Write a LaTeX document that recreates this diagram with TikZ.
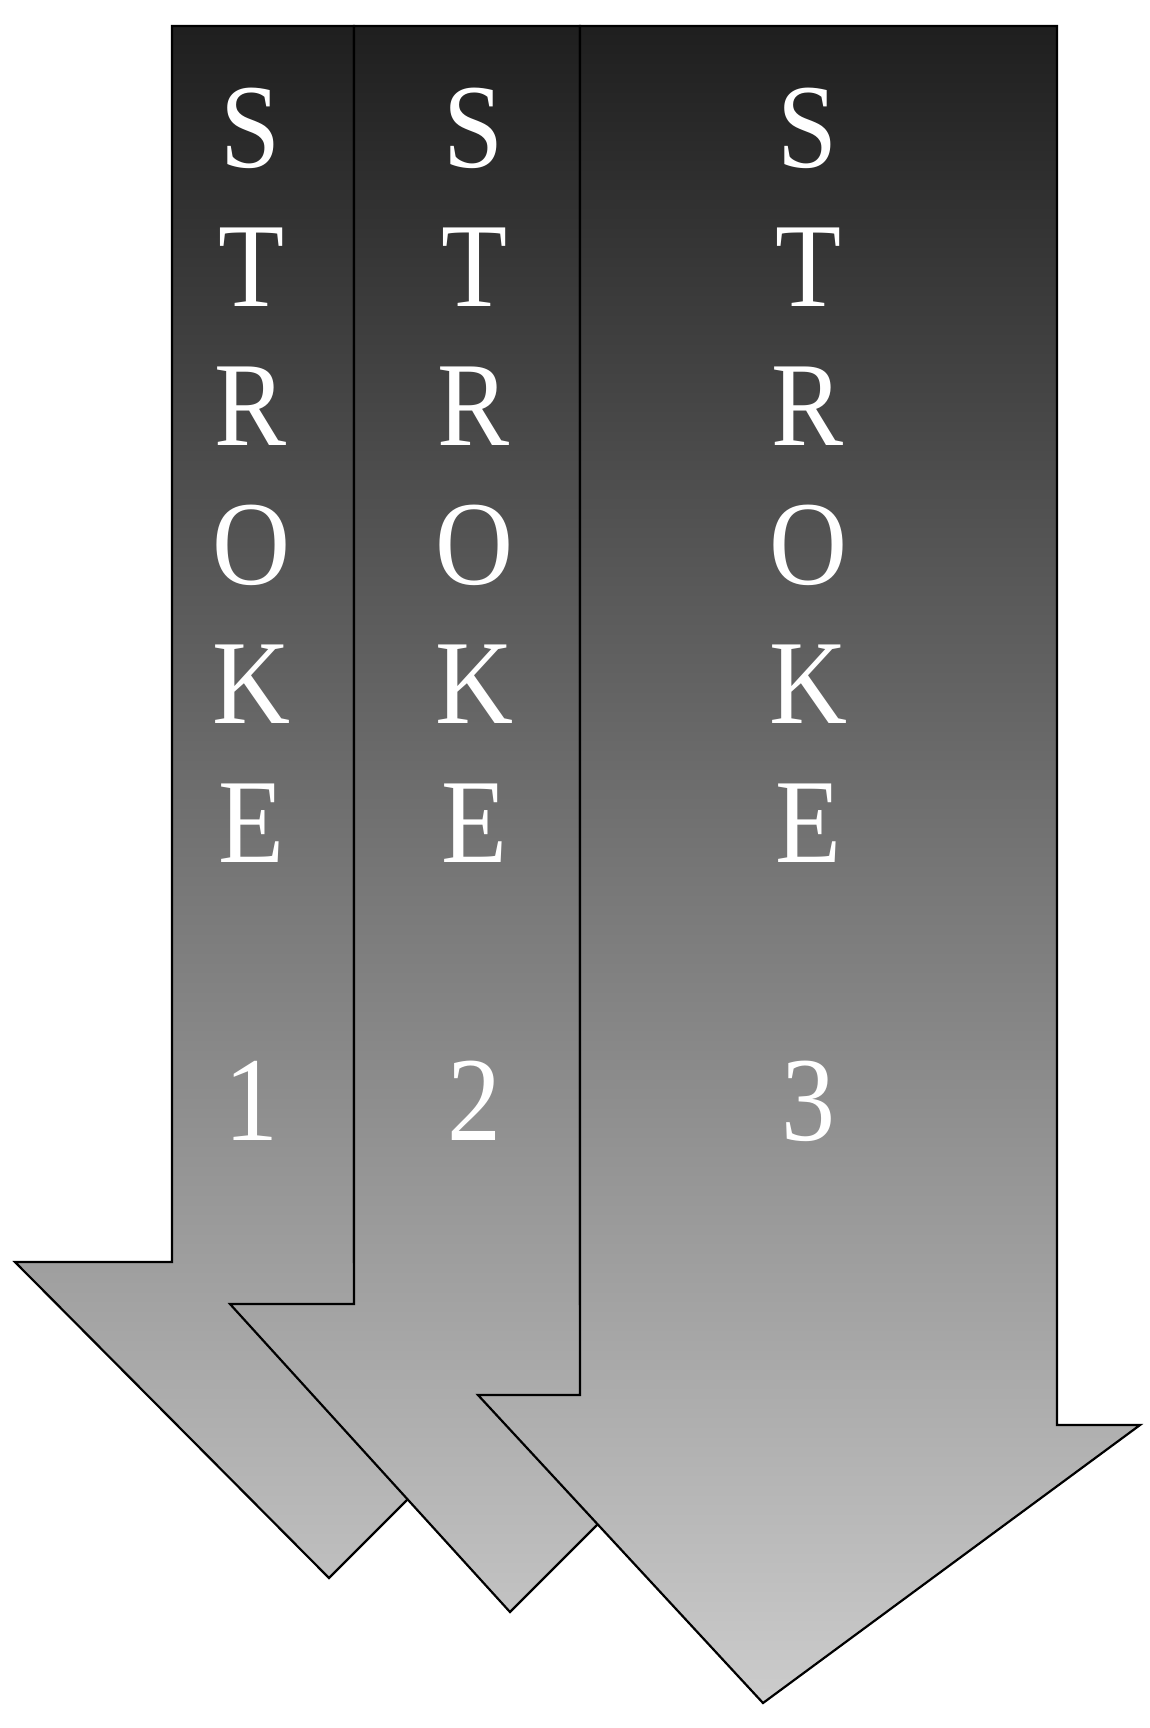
\documentclass[tikz,border=0pt]{standalone}
\usepackage{fontspec}
\setmainfont{LiberationSerif}[Extension=.ttf,UprightFont=*-Regular,FakeStretch=0.9]
\usetikzlibrary{shadings}

\definecolor{shafttop}{gray}{0.12}
\definecolor{shaftbottom}{gray}{0.80}

\tikzset{
  strokearrow/.style={draw=black,line width=1.1pt,line join=miter,
    path picture={\shade[top color=shafttop,bottom color=shaftbottom] (0,26) rectangle (1150,1703);}},
  strokelabel/.style={text=white,align=center,inner sep=0pt,anchor=base,
    font=\fontsize{60}{69.5}\selectfont}
}

\begin{document}
\begin{tikzpicture}[x=0.5pt,y=-0.5pt]
\useasboundingbox (0,0) rectangle (1150,1728);

% three arrows, each one lies over the one before
\draw[strokearrow] (172,26) -- (354,26) -- (354,1262) -- (645,1262) -- (329,1578) -- (15,1262) -- (172,1262) -- cycle;
\draw[strokearrow] (354,26) -- (580,26) -- (580,1304) -- (818,1304) -- (510,1612) -- (230,1304) -- (354,1304) -- cycle;
\draw[strokearrow] (580,26) -- (1057,26) -- (1057,1425) -- (1140,1425) -- (763,1703) -- (478,1395) -- (580,1395) -- cycle;

% base anchor sits on the last line (the number)
\node[strokelabel] (S1) at (251,1140) {S\\T\\R\\O\\K\\E\\[69.5pt]1};
\node[strokelabel] (S2) at (474,1140) {S\\T\\R\\O\\K\\E\\[69.5pt]2};
\node[strokelabel] (S3) at (808,1140) {S\\T\\R\\O\\K\\E\\[69.5pt]3};
\end{tikzpicture}
\end{document}
